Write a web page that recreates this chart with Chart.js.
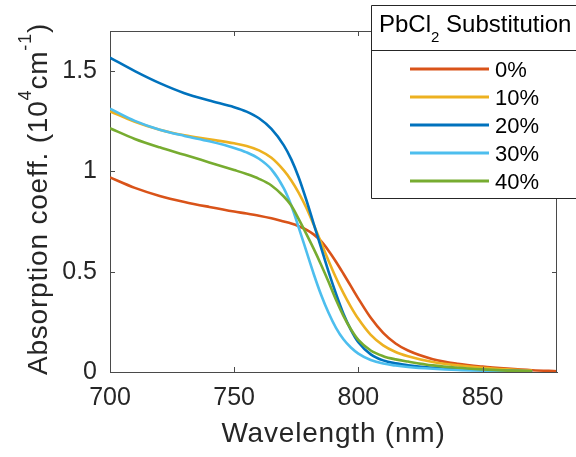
<!DOCTYPE html>
<html><head><meta charset="utf-8">
<script src="https://cdn.jsdelivr.net/npm/chart.js@4"></script>
<style>html,body{margin:0;padding:0;background:#fff;}canvas{display:block;}</style>
</head><body>
<canvas id="c" width="576" height="457"></canvas>
<script>
// ---- data ----
const wavelengths = [700,710,720,730,740,750,755,760,765,770,773,776,779,782,785,788,791,794,797,800,805,810,815,820,830,840,850,860,870,880];
const pbcl0  = [0.97,0.918,0.878,0.848,0.823,0.80,0.79,0.779,0.766,0.75,0.74,0.727,0.71,0.686,0.652,0.605,0.55,0.49,0.428,0.366,0.27,0.195,0.142,0.107,0.064,0.041,0.027,0.017,0.009,0.004];
const pbcl10 = [1.30,1.248,1.208,1.18,1.16,1.14,1.127,1.105,1.068,1.005,0.955,0.893,0.82,0.735,0.645,0.555,0.47,0.393,0.325,0.265,0.185,0.133,0.10,0.079,0.05,0.033,0.021,0.013,0.007,null];
const pbcl20 = [1.567,1.50,1.44,1.39,1.353,1.32,1.298,1.265,1.212,1.13,1.06,0.97,0.86,0.74,0.62,0.50,0.39,0.29,0.21,0.148,0.088,0.058,0.043,0.034,0.021,0.014,0.009,0.006,0.004,null];
const pbcl30 = [1.313,1.252,1.208,1.177,1.15,1.117,1.095,1.063,1.01,0.915,0.83,0.72,0.605,0.49,0.385,0.295,0.22,0.163,0.122,0.092,0.06,0.042,0.032,0.025,0.016,0.01,0.007,0.005,0.003,null];
const pbcl40 = [1.215,1.162,1.12,1.083,1.045,1.007,0.987,0.963,0.93,0.875,0.83,0.762,0.69,0.615,0.535,0.45,0.36,0.28,0.213,0.16,0.107,0.079,0.063,0.052,0.033,0.021,0.013,0.007,0.003,null];
const seriesLabels = ['0%','10%','20%','30%','40%'];
const xTicks = [700,750,800,850];
const xTickLabels = ['700','750','800','850'];
const yTicks = [0,0.5,1,1.5];
const yTickLabels = ['0','0.5','1','1.5'];
const xTitle = 'Wavelength (nm)';
const yTitleParts = [['Absorption coeff. (','n'],['10','n'],['4','sup'],['cm','n'],['-1','sup'],[')','n']];
const legendTitleParts = [['PbCl','n'],['2','sub'],[' Substitution','n']];

// ---- styles ----
const seriesValues = [pbcl0,pbcl10,pbcl20,pbcl30,pbcl40];
const seriesColors = ['#D95319','#EDB120','#0072BD','#4DBEEE','#77AC30'];
const FONT = '"Liberation Sans", Arial, Helvetica, sans-serif';
const TEXT = '#262626';
const AXIS = '#4a4a4a';

function drawParts(ctx, parts, sizes, offsets, centered) {
  let total = 0;
  parts.forEach(p => { ctx.font = sizes[p[1]] + 'px ' + FONT; total += ctx.measureText(p[0]).width; });
  let xp = centered ? -total / 2 : 0;
  parts.forEach(p => {
    ctx.font = sizes[p[1]] + 'px ' + FONT;
    ctx.fillText(p[0], xp, offsets[p[1]]);
    xp += ctx.measureText(p[0]).width;
  });
}

const decorPlugin = {
  id: 'decor',
  afterDraw(chart) {
    const {ctx, chartArea: a, scales: {x, y}} = chart;
    ctx.save();
    ctx.strokeStyle = AXIS; ctx.lineWidth = 1;
    ctx.beginPath();
    ctx.moveTo(a.left, a.top + 0.5); ctx.lineTo(a.right, a.top + 0.5);
    ctx.moveTo(a.right - 0.5, a.top); ctx.lineTo(a.right - 0.5, a.bottom);
    xTicks.forEach(v => {
      const px = Math.round(x.getPixelForValue(v)) + 0.5;
      ctx.moveTo(px, a.bottom); ctx.lineTo(px, a.bottom - 5);
      ctx.moveTo(px, a.top); ctx.lineTo(px, a.top + 5);
    });
    yTicks.forEach(v => {
      const py = Math.round(y.getPixelForValue(v)) + 0.5;
      ctx.moveTo(a.left, py); ctx.lineTo(a.left + 5, py);
      ctx.moveTo(a.right, py); ctx.lineTo(a.right - 5, py);
    });
    ctx.stroke();

    ctx.fillStyle = TEXT;
    ctx.textBaseline = 'alphabetic';
    ctx.textAlign = 'left';
    // x axis title
    ctx.save();
    ctx.letterSpacing = '0.8px';
    ctx.translate((a.left + a.right) / 2, 441.5);
    drawParts(ctx, [[xTitle, 'n']], {n: 28}, {n: 0}, true);
    ctx.restore();
    // y axis title
    ctx.save();
    ctx.letterSpacing = '0.8px';
    ctx.translate(46.5, 199);
    ctx.rotate(-Math.PI / 2);
    drawParts(ctx, yTitleParts, {n: 28, sup: 18}, {n: 0, sup: -16}, true);
    ctx.restore();

    // legend
    const L = 371.5, T = 5.5, R = 580, B = 198.5;
    ctx.fillStyle = '#ffffff';
    ctx.fillRect(L, T, R - L, B - T);
    ctx.strokeStyle = '#262626';
    ctx.beginPath();
    ctx.rect(L, T, R - L, B - T);
    ctx.moveTo(L, 50.5); ctx.lineTo(R, 50.5);
    ctx.stroke();
    ctx.fillStyle = '#000000';
    ctx.save();
    ctx.translate(379, 32);
    drawParts(ctx, legendTitleParts, {n: 24, sub: 15}, {n: 0, sub: 9.5}, false);
    ctx.restore();
    chart.data.datasets.forEach((ds, i) => {
      const cy = 69 + i * 28;
      ctx.strokeStyle = ds.borderColor;
      ctx.lineWidth = 3;
      ctx.beginPath(); ctx.moveTo(410, cy); ctx.lineTo(489, cy); ctx.stroke();
      ctx.fillStyle = '#000000';
      ctx.font = '22px ' + FONT;
      ctx.fillText(ds.label, 495, cy + 8);
    });
    ctx.restore();
  }
};

new Chart(document.getElementById('c'), {
  type: 'line',
  data: {
    datasets: seriesValues.map((vals, i) => ({
      label: seriesLabels[i],
      data: wavelengths.map((w, j) => ({x: w, y: vals[j]})).filter(p => p.y !== null),
      borderColor: seriesColors[i],
      borderWidth: 2.6,
      pointRadius: 0,
      fill: false,
      cubicInterpolationMode: 'monotone',
      order: -i
    }))
  },
  options: {
    responsive: false,
    animation: false,
    devicePixelRatio: 1,
    layout: {padding: {top: 31, right: 19, left: 0, bottom: 0}},
    plugins: {legend: {display: false}, tooltip: {enabled: false}},
    scales: {
      x: {
        type: 'linear', min: 700, max: 880,
        afterFit(s) { s.height = 85; },
        afterBuildTicks(s) { s.ticks = xTicks.map(v => ({value: v})); },
        ticks: {callback: (v, i) => xTickLabels[i], font: {family: FONT, size: 25}, color: TEXT, padding: 11, maxRotation: 0, autoSkip: false},
        grid: {display: true, drawOnChartArea: false, drawTicks: false},
        border: {display: true, color: AXIS, width: 1}
      },
      y: {
        min: 0, max: 1.7,
        afterFit(s) { s.width = 110; },
        afterBuildTicks(s) { s.ticks = yTicks.map(v => ({value: v})); },
        ticks: {callback: (v, i) => yTickLabels[i], font: {family: FONT, size: 25}, color: TEXT, padding: 13, autoSkip: false},
        grid: {display: true, drawOnChartArea: false, drawTicks: false},
        border: {display: true, color: AXIS, width: 1}
      }
    }
  },
  plugins: [decorPlugin]
});
</script>
</body></html>
